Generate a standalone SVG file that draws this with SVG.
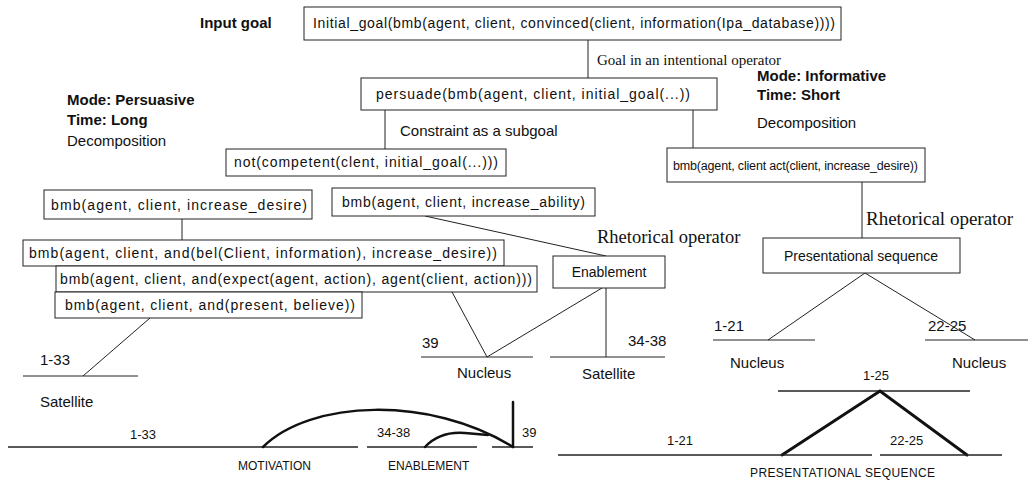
<svg xmlns="http://www.w3.org/2000/svg" width="1028" height="483" viewBox="0 0 1028 483">
<style>
.bg{fill:#fff}
.box{fill:#fff;stroke:#222;stroke-width:1}
.t{font-family:"Liberation Sans",Arial,sans-serif;font-size:14px;fill:#111}
.b{font-family:"Liberation Sans",Arial,sans-serif;font-size:15px;font-weight:bold;fill:#111}
.l{font-family:"Liberation Sans",Arial,sans-serif;font-size:15px;fill:#111}
.s{font-family:"Liberation Serif","Times New Roman",serif;font-size:16px;fill:#111}
.n{font-family:"Liberation Sans",Arial,sans-serif;font-size:13px;fill:#111}
.cap{font-family:"Liberation Sans",Arial,sans-serif;font-size:12px;fill:#111}
.ln{fill:none;stroke:#222;stroke-width:1}
.th{fill:none;stroke:#111;stroke-width:2.5;stroke-linecap:round}
</style>
<rect class="bg" x="0" y="0" width="1028" height="483"/>

<g id="labels">
<text class="b" x="200" y="28">Input goal</text>
<text class="s" x="597" y="65" style="font-size:15px">Goal in an intentional operator</text>
<text class="b" x="757" y="81">Mode: Informative</text>
<text class="b" x="757" y="100">Time: Short</text>
<text class="l" x="757" y="128">Decomposition</text>
<text class="b" x="67" y="105">Mode: Persuasive</text>
<text class="b" x="67" y="125">Time: Long</text>
<text class="l" x="67" y="146">Decomposition</text>
<text class="l" x="400" y="136">Constraint as a subgoal</text>
<text class="s" x="597" y="243" style="font-size:18.5px">Rhetorical operator</text>
<text class="s" x="866" y="225" style="font-size:19px">Rhetorical operator</text>
</g>

<g id="connectors">
<line class="ln" x1="588" y1="40" x2="588" y2="78"/>
<line class="ln" x1="385" y1="110" x2="385" y2="149"/>
<line class="ln" x1="693" y1="110" x2="693" y2="148"/>
<line class="ln" x1="182" y1="219" x2="182" y2="240"/>
<line class="ln" x1="425" y1="216" x2="606" y2="256"/>
<line class="ln" x1="862" y1="182" x2="862" y2="238"/>
<polyline class="ln" points="768,340 865,273 975,340"/>
<line class="ln" x1="713" y1="340" x2="815" y2="340"/>
<line class="ln" x1="925" y1="340" x2="1028" y2="340"/>
<line class="ln" x1="606" y1="288" x2="606" y2="357"/>
<line class="ln" x1="550" y1="357" x2="665" y2="357"/>
<polyline class="ln" points="452,292 487,357 602,288"/>
<line class="ln" x1="421" y1="357" x2="533" y2="357"/>
<line class="ln" x1="150" y1="318" x2="83" y2="376"/>
<line class="ln" x1="23" y1="376" x2="138" y2="376"/>
</g>

<g id="n-initial"><rect class="box" x="304" y="7" width="537" height="33"/><text class="t" x="313" y="28" textLength="522">Initial_goal(bmb(agent,  client, convinced(client, information(Ipa_database))))</text></g>
<g id="n-persuade"><rect class="box" x="361" y="78" width="356" height="32"/><text class="t" x="376" y="99" textLength="314">persuade(bmb(agent, client, initial_goal(...))</text></g>
<g id="n-not"><rect class="box" x="226" y="149" width="280" height="27"/><text class="t" x="234" y="167" textLength="264">not(competent(clent, initial_goal(...)))</text></g>
<g id="n-act"><rect class="box" x="667" y="148" width="258" height="34"/><text class="t" x="673" y="170" style="font-size:12.5px" textLength="245">bmb(agent, client act(client, increase_desire))</text></g>
<g id="n-desire"><rect class="box" x="44" y="190" width="268" height="29"/><text class="t" x="51" y="210" textLength="256">bmb(agent, client, increase_desire)</text></g>
<g id="n-ability"><rect class="box" x="332" y="188" width="263" height="28"/><text class="t" x="342" y="207" textLength="243">bmb(agent, client, increase_ability)</text></g>
<g id="n-bel"><rect class="box" x="23" y="240" width="481" height="26"/><text class="t" x="29" y="258" textLength="468">bmb(agent, client, and(bel(Client, information), increase_desire))</text></g>
<g id="n-expect"><rect class="box" x="56" y="266" width="481" height="26"/><text class="t" x="60" y="284" textLength="472">bmb(agent, client, and(expect(agent, action), agent(client, action)))</text></g>
<g id="n-present"><rect class="box" x="55" y="292" width="307" height="26"/><text class="t" x="65" y="310" textLength="290">bmb(agent, client, and(present, believe))</text></g>
<g id="n-enable"><rect class="box" x="553" y="256" width="112" height="32"/><text class="t" x="609" y="277" text-anchor="middle">Enablement</text></g>
<g id="n-pres"><rect class="box" x="763" y="238" width="197" height="35"/><text class="t" x="861" y="261" text-anchor="middle">Presentational sequence</text></g>

<g id="leaves">
<text class="l" x="714" y="331">1-21</text>
<text class="l" x="928" y="331">22-25</text>
<text class="l" x="730" y="368">Nucleus</text>
<text class="l" x="952" y="368">Nucleus</text>
<text class="l" x="628" y="346">34-38</text>
<text class="l" x="582" y="379">Satellite</text>
<text class="l" x="422" y="348">39</text>
<text class="l" x="457" y="378">Nucleus</text>
<text class="l" x="40" y="365">1-33</text>
<text class="l" x="40" y="407">Satellite</text>
</g>

<g id="motivation-tree">
<line class="ln" x1="8" y1="447" x2="358" y2="447" style="stroke-width:1.5"/>
<line class="ln" x1="367" y1="447" x2="477" y2="447" style="stroke-width:1.5"/>
<line class="ln" x1="492" y1="447" x2="533" y2="447" style="stroke-width:1.5"/>
<line class="th" x1="513" y1="402" x2="513" y2="447"/>
<path class="th" d="M263,447 C310,400 430,395 513,447"/>
<path class="th" d="M425,447 Q440,431 465,433 L488,435"/>
<text class="n" x="130" y="439">1-33</text>
<text class="n" x="377" y="437">34-38</text>
<text class="n" x="522" y="437">39</text>
<text class="cap" x="238" y="470">MOTIVATION</text>
<text class="cap" x="388" y="470">ENABLEMENT</text>
</g>

<g id="presentational-tree">
<text class="n" x="863" y="380">1-25</text>
<line class="ln" x1="778" y1="391" x2="970" y2="391" style="stroke-width:1.5"/>
<polyline class="th" points="782,455 880,391 967,455" style="stroke-width:3"/>
<line class="ln" x1="558" y1="455" x2="872" y2="455" style="stroke-width:1.5"/>
<line class="ln" x1="880" y1="455" x2="1002" y2="455" style="stroke-width:1.5"/>
<text class="n" x="667" y="445">1-21</text>
<text class="n" x="890" y="445">22-25</text>
<text class="cap" x="750" y="477" textLength="185">PRESENTATIONAL SEQUENCE</text>
</g>
</svg>
